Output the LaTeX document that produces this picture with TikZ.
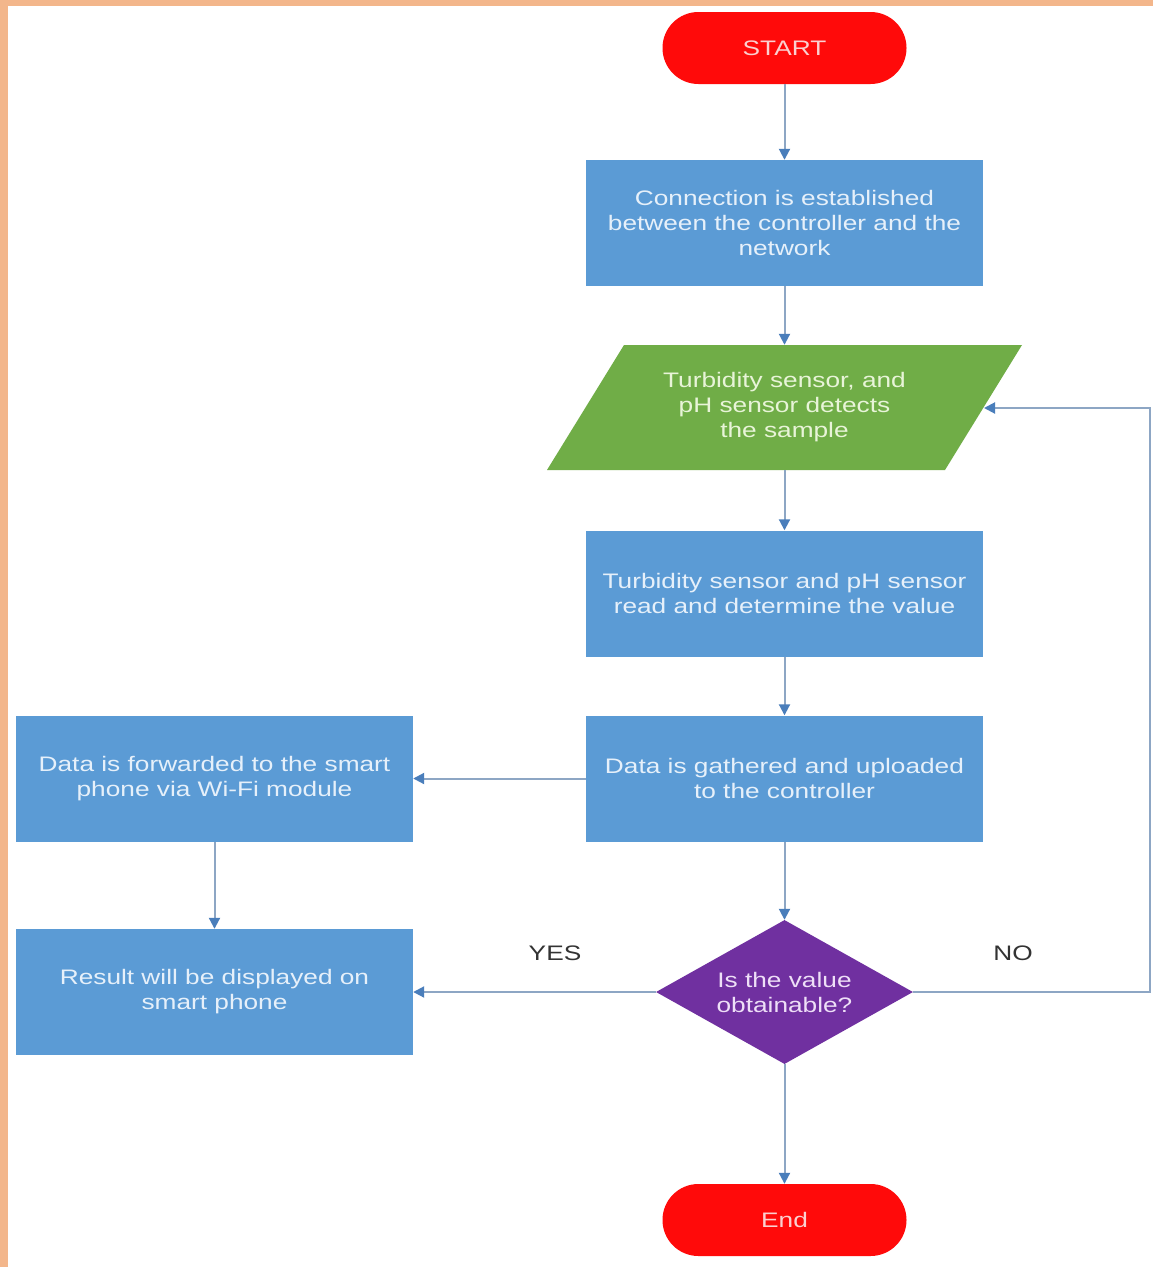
\documentclass[tikz,border=0pt]{standalone}
\usepackage{fontspec}
\setmainfont{Liberation Sans}[FakeStretch=1.25]
\usetikzlibrary{arrows.meta,shapes.geometric}
\definecolor{boxblue}{HTML}{5B9BD5}
\definecolor{boxgreen}{HTML}{70AD47}
\definecolor{boxpurple}{HTML}{7030A0}
\definecolor{boxred}{HTML}{FF0A0A}
\definecolor{frameor}{HTML}{F3B68B}
\definecolor{linec}{HTML}{8DA6C4}
\definecolor{tipc}{HTML}{4A7EBB}
\definecolor{txtblue}{HTML}{E6F0FA}
\definecolor{txtgreen}{HTML}{E8F4D8}
\definecolor{txtpurple}{HTML}{EEDFF7}
\definecolor{txtred}{HTML}{FBD0D0}
\tikzset{
  basefont/.style={font=\fontsize{21}{25}\selectfont, align=center},
  procbox/.style={basefont, rectangle, fill=boxblue, text=txtblue, minimum width=397pt, minimum height=126pt, inner sep=0pt},
  termbox/.style={basefont, rectangle, rounded corners=35.9pt, fill=boxred, text=txtred, minimum width=244pt, minimum height=72pt, inner sep=0pt},
  decbox/.style={basefont, diamond, aspect=1.78, fill=boxpurple, text=txtpurple, minimum width=257pt, minimum height=144pt, inner sep=0pt},
  iotext/.style={basefont, rectangle, text=txtgreen, minimum width=400pt, minimum height=125pt, inner sep=0pt},
  lbl/.style={font=\fontsize{21}{25}\selectfont, text=black!80},
  conn/.style={draw=linec, line width=2pt, -{Triangle[length=11pt,width=11pt,color=tipc]}},
}
\begin{document}
\begin{tikzpicture}[x=1pt,y=-1pt]
\useasboundingbox (0,0) rectangle (1153,1267);
\fill[frameor] (0,0) rectangle (1153,1267);
\fill[white] (8,6) rectangle (1153,1267);

% parallelogram shape
\fill[boxgreen] (547,470) -- (624,345) -- (1022,345) -- (945,470) -- cycle;

\node[termbox] (start) at (784.5,48) {START};
\node[procbox] (conn) at (784.5,223) {Connection is established\\between the controller and the\\network};
\node[iotext] (detect) at (784.5,407.5) {Turbidity sensor, and\\pH sensor detects\\the sample};
\coordinate (detectR) at (984,408);
\node[procbox] (read) at (784.5,593.5) {Turbidity sensor and pH sensor\\read and determine the value};
\node[procbox] (gather) at (784.5,778.5) {Data is gathered and uploaded\\to the controller};
\node[procbox] (fwd) at (214.5,778.5) {Data is forwarded to the smart\\phone via Wi-Fi module};
\node[procbox] (result) at (214.5,992) {Result will be displayed on\\smart phone};
\node[decbox] (dec) at (784.5,992) {Is the value\\obtainable?};
\node[termbox] (end) at (784.5,1220) {End};
\coordinate (cR1) at (1150,992);
\coordinate (cR2) at (1150,408);

\node[lbl] (yes) at (555,953) {YES};
\node[lbl] (no) at (1013,953) {NO};

\draw[conn] (start) -- (conn);
\draw[conn] (conn.south) -- (detect.north);
\draw[conn] (detect.south) -- (read.north);
\draw[conn] (read) -- (gather);
\draw[conn] (gather) -- (fwd);
\draw[conn] (fwd) -- (result);
\draw[conn] (gather) -- (dec);
\draw[conn] (dec) -- (result);
\draw[conn] (dec) -- (end);
\draw[conn] (dec.east) -- (cR1) -- (cR2) -- (detectR);
\end{tikzpicture}
\end{document}
